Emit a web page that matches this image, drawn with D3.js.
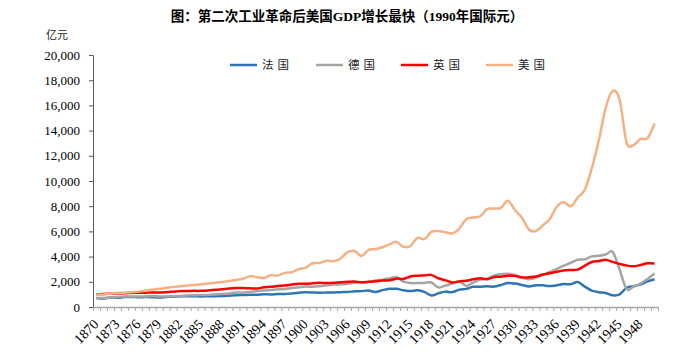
<!DOCTYPE html>
<html>
<head>
  <meta charset="utf-8">
  <title>GDP chart</title>
  <script src="https://d3js.org/d3.v7.min.js"></script>
  <style>
    body { margin: 0; background: #fff; }
    svg { display: block; }
    .num { font-family: "Liberation Serif", "Times New Roman", serif; font-size: 13px; fill: #000; }
    .xlab { font-size: 14px; }
    .cjk { font-family: "Noto Sans CJK SC", sans-serif; }
  </style>
</head>
<body>
  <div id="chart"></div>
  <script>
    // data (1990 international dollars, 亿元)
    const years = d3.range(1870, 1951);
    const france = [720, 680, 760, 730, 790, 800, 770, 790, 780, 750,
      790, 820, 860, 860, 850, 840, 860, 860, 870, 900,
      930, 950, 970, 980, 1020, 1000, 1040, 1030, 1080, 1130,
      1170, 1150, 1130, 1150, 1160, 1180, 1190, 1250, 1260, 1300,
      1190, 1340, 1440, 1440, 1330, 1260, 1330, 1200, 920, 1080,
      1220, 1180, 1380, 1440, 1600, 1610, 1640, 1620, 1750, 1900,
      1860, 1750, 1630, 1730, 1720, 1660, 1720, 1820, 1810, 1980,
      1620, 1300, 1170, 1110, 930, 1000, 1530, 1650, 1780, 2030,
      2200];
    const germany = [720, 710, 760, 800, 840, 840, 840, 840, 870, 840,
      840, 850, 870, 910, 930, 950, 960, 1000, 1040, 1070,
      1150, 1140, 1200, 1260, 1300, 1350, 1400, 1430, 1500, 1560,
      1620, 1600, 1650, 1720, 1780, 1800, 1850, 1920, 1950, 1990,
      2100, 2170, 2270, 2370, 2010, 1900, 1900, 1920, 1940, 1560,
      1700, 1870, 2020, 1680, 1940, 2180, 2230, 2500, 2600, 2630,
      2540, 2350, 2200, 2340, 2560, 2780, 3030, 3280, 3510, 3750,
      3780, 4020, 4070, 4170, 4370, 2950, 1430, 1620, 1860, 2230,
      2650];
    const uk = [1000, 1040, 1050, 1080, 1100, 1110, 1130, 1140, 1150, 1150,
      1180, 1220, 1260, 1270, 1280, 1280, 1310, 1360, 1410, 1470,
      1500, 1500, 1480, 1470, 1560, 1600, 1670, 1700, 1780, 1850,
      1850, 1880, 1920, 1900, 1920, 1960, 2000, 2030, 1960, 2000,
      2040, 2100, 2120, 2250, 2230, 2420, 2480, 2500, 2550, 2280,
      2130, 1950, 2030, 2090, 2200, 2280, 2210, 2380, 2400, 2480,
      2470, 2340, 2360, 2420, 2580, 2680, 2800, 2900, 2940, 2970,
      3270, 3570, 3640, 3740, 3580, 3420, 3290, 3230, 3330, 3470,
      3450];
    const usa = [980, 1000, 1060, 1110, 1140, 1170, 1220, 1290, 1370, 1440,
      1520, 1580, 1640, 1700, 1750, 1800, 1860, 1920, 1990, 2060,
      2150, 2240, 2450, 2370, 2300, 2530, 2490, 2710, 2760, 3010,
      3120, 3470, 3490, 3670, 3630, 3850, 4360, 4450, 4040, 4540,
      4600, 4740, 4970, 5170, 4780, 4840, 5480, 5390, 5960, 6030,
      5930, 5850, 6210, 6970, 7100, 7200, 7770, 7810, 7870, 8430,
      7680, 7090, 6150, 6030, 6490, 6990, 7980, 8320, 8000, 8690,
      9300, 10990, 13190, 15810, 17140, 16450, 13050, 12860, 13340, 13400,
      14560];
    const yTicks = d3.range(0, 20001, 2000);
    const xLabels = d3.range(1870, 1950, 3);

    const series = [
      { name: "法国", values: france, color: "#2e75b6" },
      { name: "德国", values: germany, color: "#a5a5a5" },
      { name: "英国", values: uk, color: "#ff0000" },
      { name: "美国", values: usa, color: "#f4b183" }
    ];

    const width = 695, height = 352;
    const plot = { left: 93, right: 658, top: 55, bottom: 307 };

    const svg = d3.select("#chart").append("svg")
      .attr("width", width)
      .attr("height", height);

    const x = d3.scaleBand().domain(years).range([plot.left, plot.right]);
    const xEdge = d3.scaleLinear().domain([0, years.length]).range([plot.left, plot.right]);
    const y = d3.scaleLinear().domain([0, 20000]).range([plot.bottom, plot.top]);

    // title
    svg.append("text")
      .attr("x", 347)
      .attr("y", 21)
      .attr("text-anchor", "middle")
      .style("font-family", "\"Liberation Serif\", \"Noto Sans CJK SC\", serif")
      .style("font-weight", "bold")
      .style("font-size", "13.5px")
      .text("图：第二次工业革命后美国GDP增长最快（1990年国际元）");

    // unit label
    svg.append("text")
      .attr("class", "cjk")
      .attr("x", 46)
      .attr("y", 39)
      .style("font-size", "11px")
      .style("fill", "#222")
      .text("亿元");

    // y axis
    const yAxis = svg.append("g")
      .attr("transform", `translate(${plot.left},0)`)
      .call(d3.axisLeft(y).tickValues(yTicks).tickFormat(d3.format(",")).tickSize(4).tickPadding(9));
    yAxis.select(".domain").attr("stroke", "#595959");
    yAxis.selectAll(".tick line").attr("stroke", "#595959");
    yAxis.selectAll("text").attr("class", "num");

    // x axis: ticks between categories
    const xTickAxis = svg.append("g")
      .attr("transform", `translate(0,${plot.bottom})`)
      .call(d3.axisBottom(xEdge).tickValues(d3.range(years.length + 1)).tickFormat("").tickSize(4).tickSizeOuter(0));
    xTickAxis.select(".domain").attr("stroke", "#a6a6a6").attr("stroke-width", 1.5);
    xTickAxis.selectAll(".tick line").attr("stroke", "#a6a6a6");

    // x labels every 3 years
    svg.append("g")
      .selectAll("text")
      .data(xLabels)
      .join("text")
        .attr("class", "num xlab")
        .attr("text-anchor", "end")
        .attr("transform", d => `translate(${x(d) + x.bandwidth() / 2 + 3},${plot.bottom + 18}) rotate(-45)`)
        .text(d => d);

    // lines
    const line = d3.line()
      .x((d, i) => x(years[i]) + x.bandwidth() / 2)
      .y(d => y(d))
      .curve(d3.curveCardinal.tension(0));

    svg.append("g")
      .selectAll("path")
      .data(series)
      .join("path")
        .attr("fill", "none")
        .attr("stroke", d => d.color)
        .attr("stroke-width", 2.5)
        .attr("stroke-linejoin", "round")
        .attr("d", d => line(d.values));

    // legend
    const legendX = [230, 316, 401, 486];
    const legend = svg.append("g")
      .selectAll("g")
      .data(series)
      .join("g")
        .attr("transform", (d, i) => `translate(${legendX[i]},65)`);
    legend.append("line")
      .attr("x1", 0).attr("x2", 27)
      .attr("stroke", d => d.color)
      .attr("stroke-width", 2.5);
    legend.append("text")
      .attr("class", "cjk")
      .attr("x", 32)
      .attr("dy", "0.36em")
      .style("font-size", "11.5px")
      .style("letter-spacing", "4px")
      .style("fill", "#222")
      .text(d => d.name);
  </script>
</body>
</html>
